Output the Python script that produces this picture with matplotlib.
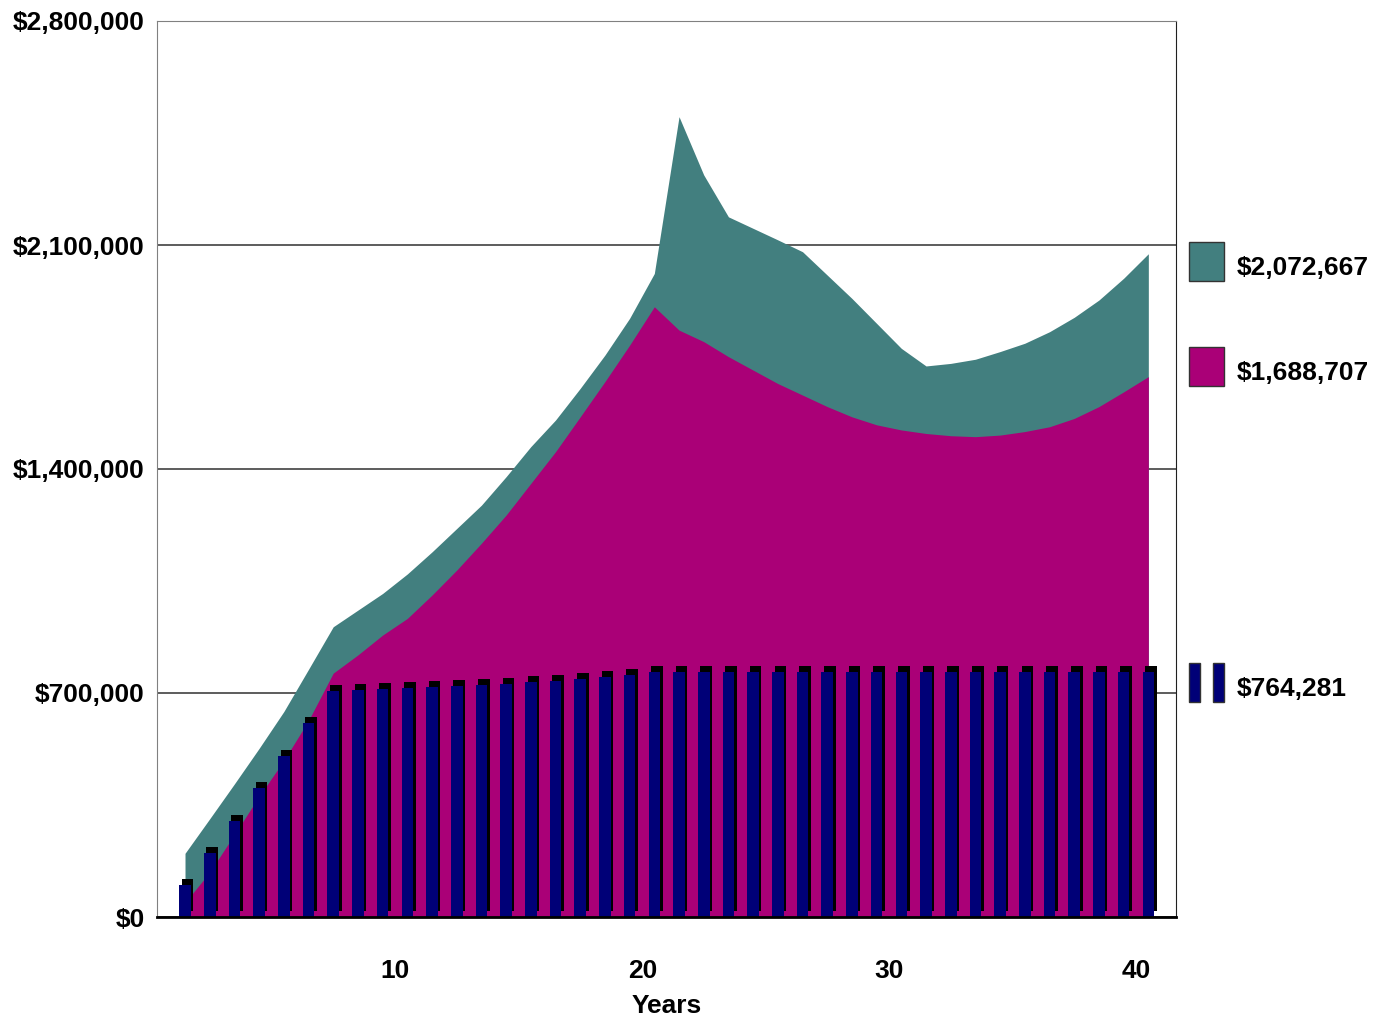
import numpy as np
import matplotlib
matplotlib.use("Agg")
import matplotlib.pyplot as plt
import matplotlib.transforms as mtransforms
from matplotlib.patches import Rectangle

plt.rcParams['font.family'] = ['Liberation Sans', 'DejaVu Sans']
plt.rcParams['font.weight'] = 'bold'

# dati
anni = np.arange(1, 41)
valore_totale = [199000, 307000, 416000, 527000, 642000, 774000, 907000, 959000, 1011000, 1072000,
                 1141000, 1214000, 1287000, 1376000, 1470000, 1553000, 1652000, 1756000, 1871000, 2011000,
                 2501000, 2319000, 2188000, 2152000, 2116000, 2079000, 2006000, 1933000, 1855000, 1777000,
                 1722000, 1730000, 1743000, 1767000, 1793000, 1829000, 1874000, 1928000, 1996000, 2072667]
valore_cassa = [45000, 140000, 258000, 377000, 489000, 614000, 762000, 819000, 881000, 933000,
                1006000, 1084000, 1168000, 1256000, 1355000, 1454000, 1563000, 1673000, 1787000, 1907000,
                1834000, 1798000, 1751000, 1709000, 1667000, 1631000, 1595000, 1563000, 1538000, 1522000,
                1511000, 1504000, 1501000, 1506000, 1517000, 1532000, 1558000, 1595000, 1641000, 1688707]
versamenti = [99000, 200000, 301000, 403000, 504000, 606000, 707000, 710000, 714000, 716000,
              719000, 722000, 725000, 728000, 734000, 739000, 744000, 749000, 756000] + [764281] * 21

etichette_y = ["$0", "$700,000", "$1,400,000", "$2,100,000", "$2,800,000"]
tick_y = [0, 700000, 1400000, 2100000, 2800000]
etichette_leg = ["$2,072,667", "$1,688,707", "$764,281"]

TEAL = '#427F7F'
MAGENTA = '#AA0077'
NAVY = '#000077'

fig = plt.figure(figsize=(13.87, 10.21), dpi=100)
ax = fig.add_axes([157/1387, 1-917/1021, (1176-157)/1387, (917-21)/1021])

ax.fill_between(anni, 0, valore_totale, color=TEAL, lw=0, zorder=2)
ax.fill_between(anni, 0, valore_cassa, color=MAGENTA, lw=0, zorder=3)

# ombra nera delle barre (effetto 3D)
ombra = ax.transData + mtransforms.ScaledTranslation(0.025, 0.06, fig.dpi_scale_trans)
ax.bar(anni, versamenti, width=0.47, color='black', lw=0, zorder=4, transform=ombra)
ax.bar(anni, versamenti, width=0.47, color=NAVY, lw=0, zorder=5)

ax.set_xlim(-0.134, 41.12)
ax.set_ylim(0, 2800000)
ax.set_yticks(tick_y)
ax.set_yticklabels(etichette_y, fontsize=19, fontweight='bold')
ax.set_xticks([10, 20, 30, 40])
ax.set_xticklabels(["10", "20", "30", "40"], fontsize=19, fontweight='bold')
ax.tick_params(axis='y', length=0, pad=9)
ax.tick_params(axis='x', length=0, pad=30)
ax.set_xlabel("Years", fontsize=19, fontweight='bold', labelpad=8)

# le etichette dell'asse x sono un po' spostate a sinistra nell'originale
sposta = mtransforms.ScaledTranslation(-0.12, 0, fig.dpi_scale_trans)
for lab in ax.get_xticklabels():
    lab.set_transform(lab.get_transform() + sposta)

ax.yaxis.grid(True, color='#303030', lw=1.1, zorder=1)
ax.set_axisbelow(True)
ax.spines['left'].set_color('#808080')
ax.spines['top'].set_color('#808080')
ax.spines['right'].set_color('#202020')
ax.spines['bottom'].set_color('black')
ax.spines['bottom'].set_linewidth(2)
ax.spines['bottom'].set_zorder(6)

# legenda a destra
def fx(px):
    return px / 1387
def fy(py):
    return 1 - py / 1021

fig.patches.append(Rectangle((fx(1189), fy(281)), fx(35), 39/1021, facecolor=TEAL,
                             edgecolor='#333333', lw=1, transform=fig.transFigure))
fig.patches.append(Rectangle((fx(1189), fy(386)), fx(35), 39/1021, facecolor=MAGENTA,
                             edgecolor='#333333', lw=1, transform=fig.transFigure))
fig.patches.append(Rectangle((fx(1189), fy(702)), fx(11), 39/1021, facecolor=NAVY,
                             edgecolor='#333333', lw=1, transform=fig.transFigure))
fig.patches.append(Rectangle((fx(1213), fy(702)), fx(11), 39/1021, facecolor=NAVY,
                             edgecolor='#333333', lw=1, transform=fig.transFigure))
for testo, py in zip(etichette_leg, [268, 373, 689]):
    fig.text(fx(1237), fy(py), testo, fontsize=19, fontweight='bold', va='center', ha='left')

fig.savefig("out.png", dpi=100)
